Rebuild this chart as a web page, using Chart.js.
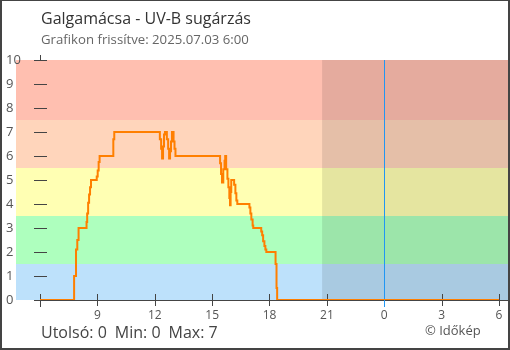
<!DOCTYPE html>
<html>
<head>
<meta charset="utf-8">
<script src="https://cdn.jsdelivr.net/npm/chart.js@4/dist/chart.umd.min.js"></script>
<style>
  html, body { margin: 0; padding: 0; background: #fff; }
  #c { display: block; }
</style>
</head>
<body>
<canvas id="c" width="510" height="350"></canvas>
<script>
// UV-B readings: each entry is the time at which the value changed and the new value.
const readingTimes = [
  "06:00", "07:47", "07:53", "07:57", "08:01", "08:26", "08:28", "08:31", "08:34", "08:37",
  "08:40", "08:58", "09:01", "09:04", "09:07", "09:50", "09:53",
  "12:16", "12:20", "12:23", "12:26", "12:29", "12:32", "12:38", "12:42", "12:45",
  "12:48", "12:51", "12:54", "12:59", "13:02", "13:05",
  "15:25", "15:28", "15:31", "15:35", "15:39", "15:41", "15:44", "15:48", "15:51",
  "15:54", "15:56", "15:58", "16:00", "16:09", "16:13", "16:16", "16:19",
  "16:57", "17:00", "17:03", "17:07", "17:09",
  "17:34", "17:37", "17:40", "17:44", "17:47", "17:50",
  "18:19", "18:22", "18:24", "06:00"
];
const uvValues = [
  0, 1.0, 2.1, 2.5, 3.0, 3.25, 3.6, 4.05, 4.4, 4.7,
  5.0, 5.15, 5.4, 5.75, 6.0, 6.7, 7.0,
  6.7, 6.3, 5.9, 6.4, 6.9, 7.0, 6.7, 6.3, 5.9,
  6.2, 6.6, 7.0, 6.6, 6.3, 6.0,
  5.7, 5.25, 4.9, 5.45, 5.8, 6.0, 5.45, 5.05, 4.7,
  4.25, 3.95, 4.5, 5.0, 4.8, 4.45, 4.15, 4.0,
  3.85, 3.6, 3.35, 3.1, 3.0,
  2.85, 2.7, 2.45, 2.25, 2.1, 2.0,
  1.5, 0.5, 0, 0
];

// Axis ticks (hours counted from midnight of the first day)
const xTickHours = [6, 9, 12, 15, 18, 21, 24, 27, 30];
const yTickValues = [0, 1, 2, 3, 4, 5, 6, 7, 8, 9, 10];

// UV intensity bands
const bandEdges = [0, 1.5, 3.5, 5.5, 7.5, 10];
const bandColors = ["#bde1fb", "#aeffbe", "#ffffb3", "#ffd5bb", "#ffbfb0"];

const sunsetHour = 20.75;
const midnightHour = 24;

const titleText = "Galgamácsa - UV-B sugárzás";
const subtitleText = "Grafikon frissítve: 2025.07.03 6:00";
const creditText = "© Időkép";

// "HH:MM" -> hours, rolling past midnight when the clock goes backwards
function toHours(list) {
  const out = [];
  let dayOffset = 0, prev = -1;
  for (const t of list) {
    const [h, m] = t.split(":").map(Number);
    let v = h + m / 60 + dayOffset;
    if (v <= prev) { dayOffset += 24; v += 24; }
    out.push(v);
    prev = v;
  }
  return out;
}
const readingHours = toHours(readingTimes);
const points = readingHours.map((x, i) => ({ x, y: uvValues[i] }));

const fmt = v => String(Math.round(v * 10) / 10);
const statsItems = [
  "Utolsó: " + fmt(uvValues[uvValues.length - 1]),
  "Min: " + fmt(Math.min(...uvValues)),
  "Max: " + fmt(Math.max(...uvValues))
];

const FONT = '"Open Sans", "Noto Sans", sans-serif';
const AXIS = "#444";

const decor = {
  id: "decor",
  beforeDatasetsDraw(chart) {
    const { ctx, chartArea: a, scales: { x, y } } = chart;
    const x0 = x.getPixelForValue(xTickHours[0]);
    ctx.save();
    // vertical axis line (sits under the bands)
    ctx.strokeStyle = AXIS;
    ctx.lineWidth = 1;
    ctx.beginPath();
    ctx.moveTo(Math.round(x0) + 0.5, a.top - 5);
    ctx.lineTo(Math.round(x0) + 0.5, a.bottom + 7);
    ctx.stroke();
    // bands
    for (let i = 0; i < bandColors.length; i++) {
      const yt = y.getPixelForValue(bandEdges[i + 1]);
      const yb = y.getPixelForValue(bandEdges[i]);
      ctx.fillStyle = bandColors[i];
      ctx.fillRect(a.left, yt, a.right - a.left, yb - yt);
    }
    // evening shade
    const xs = x.getPixelForValue(sunsetHour);
    ctx.fillStyle = "rgba(0,0,0,0.1)";
    ctx.fillRect(xs, a.top, a.right - xs, a.bottom - a.top);
    // y tick dashes
    ctx.strokeStyle = AXIS;
    ctx.beginPath();
    for (const v of yTickValues) {
      const py = Math.round(y.getPixelForValue(v)) + 0.5;
      ctx.moveTo(x0 - 6, py);
      ctx.lineTo(x0 + 7, py);
    }
    ctx.stroke();
    // horizontal axis line and ticks
    const by = Math.round(a.bottom) + 0.5;
    ctx.beginPath();
    ctx.moveTo(x0 - 6, by);
    ctx.lineTo(a.right, by);
    for (const h of xTickHours) {
      const px = Math.round(x.getPixelForValue(h)) + 0.5;
      ctx.moveTo(px, a.bottom - 6);
      ctx.lineTo(px, a.bottom + 6);
    }
    ctx.stroke();
    // midnight marker
    const mx = Math.round(x.getPixelForValue(midnightHour)) + 0.5;
    ctx.strokeStyle = "#2196f3";
    ctx.beginPath();
    ctx.moveTo(mx, a.top);
    ctx.lineTo(mx, a.bottom + 7);
    ctx.stroke();
    ctx.restore();
  },
  afterDraw(chart) {
    const { ctx, chartArea: a, scales: { x, y }, width, height } = chart;
    ctx.save();
    ctx.textBaseline = "middle";
    // titles
    ctx.textAlign = "left";
    ctx.fillStyle = "#333";
    ctx.font = "16px " + FONT;
    ctx.fillText(titleText, 41, 19);
    ctx.fillStyle = "#666";
    ctx.font = "13.2px " + FONT;
    ctx.fillText(subtitleText, 41, 40);
    // y labels
    ctx.fillStyle = "#555";
    ctx.font = "13px " + FONT;
    for (const v of yTickValues) {
      ctx.fillText(String(v), 6, y.getPixelForValue(v));
    }
    // x labels (the first tick has none)
    ctx.textAlign = "center";
    ctx.font = "12px " + FONT;
    xTickHours.slice(1).forEach(h => {
      ctx.fillText(String(h % 24), x.getPixelForValue(h), a.bottom + 16);
    });
    // summary
    ctx.textAlign = "left";
    ctx.fillStyle = "#444";
    ctx.font = "16px " + FONT;
    let sx = 41;
    for (const s of statsItems) {
      ctx.fillText(s, sx, 333);
      sx += ctx.measureText(s).width + 8;
    }
    ctx.fillStyle = "#555";
    ctx.font = "13px " + FONT;
    ctx.fillText(creditText, 425, 331);
    // frame
    ctx.fillStyle = AXIS;
    ctx.fillRect(0, 0, width, 1);
    ctx.fillRect(0, 0, 2, height);
    ctx.fillRect(width - 2, 0, 2, height);
    ctx.fillRect(0, height - 2, width, 2);
    ctx.restore();
  }
};

// x range chosen so that 6:00 sits 24px inside the plot and the next 6:00 near the right edge
const pxPerHour = 19.125;
const plotLeft = 16, plotRight = 508;
const xMin = xTickHours[0] - 24 / pxPerHour;
const xMax = xMin + (plotRight - plotLeft) / pxPerHour;

new Chart(document.getElementById("c"), {
  type: "line",
  data: {
    datasets: [{
      data: points,
      borderColor: "#ff7f00",
      borderWidth: 2,
      pointRadius: 0,
      stepped: true,
      fill: false
    }]
  },
  options: {
    responsive: false,
    animation: false,
    devicePixelRatio: 1,
    layout: { padding: { left: plotLeft, right: 510 - plotRight, top: 60, bottom: 50 } },
    plugins: { legend: { display: false }, tooltip: { enabled: false }, title: { display: false } },
    scales: {
      x: { type: "linear", min: xMin, max: xMax, display: false },
      y: { type: "linear", min: 0, max: 10, display: false }
    }
  },
  plugins: [decor]
});
</script>
</body>
</html>
